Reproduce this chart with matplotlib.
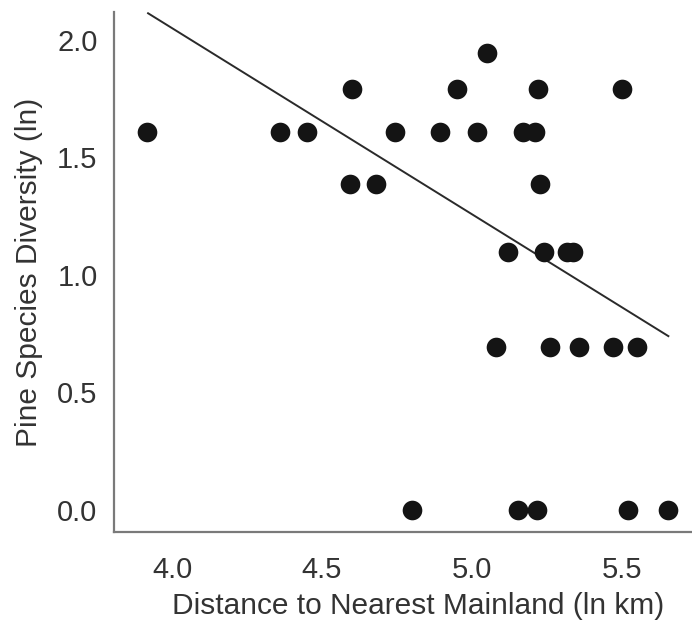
import numpy as np
import matplotlib
matplotlib.use("Agg")
import matplotlib.pyplot as plt

plt.rcParams['font.family'] = ['Liberation Sans', 'DejaVu Sans']

# Island distance to nearest mainland (ln km) and pine species diversity (ln)
distance = [3.916, 4.36, 4.45, 4.743, 4.893, 5.016, 5.17, 5.21,
            4.60, 4.95, 5.22, 5.50,
            5.05,
            4.593, 4.68, 5.227,
            5.12, 5.24, 5.316, 5.338,
            5.08, 5.26, 5.358, 5.469, 5.549,
            4.80, 5.153, 5.216, 5.52, 5.654]
diversity = [1.609] * 8 + [1.792] * 4 + [1.946] + [1.386] * 3 + \
            [1.099] * 4 + [0.693] * 5 + [0.0] * 5

# Fitted trend line
fit_slope = -0.792
fit_intercept = 5.218
fit_range = [3.92, 5.655]

xticks = [4.0, 4.5, 5.0, 5.5]
yticks = [0.0, 0.5, 1.0, 1.5, 2.0]

fig = plt.figure(figsize=(6.92, 6.28), dpi=100)
ax = fig.add_axes([0.165, 0.153, 0.878, 0.828])

ax.scatter(distance, diversity, s=200, color='#141414', zorder=3, linewidths=0)
fx = np.array(fit_range)
ax.plot(fx, fit_intercept + fit_slope * fx, color='#2a2a2a', lw=1.4, zorder=2)

ax.set_xlim(3.807, 5.833)
ax.set_ylim(-0.094, 2.119)
ax.set_xticks(xticks)
ax.set_yticks(yticks)
ax.set_xticklabels([f"{t:.1f}" for t in xticks])
ax.set_yticklabels([f"{t:.1f}" for t in yticks])

for side in ['top', 'right']:
    ax.spines[side].set_visible(False)
for side in ['left', 'bottom']:
    ax.spines[side].set_color('#7a7a7a')
    ax.spines[side].set_linewidth(1.6)

ax.tick_params(axis='both', length=0, labelsize=21, colors='#333333')
ax.tick_params(axis='x', pad=17)
ax.tick_params(axis='y', pad=12)

ax.set_xlabel("Distance to Nearest Mainland (ln km)", fontsize=21.5, color='#333333', labelpad=6)
ax.set_ylabel("Pine Species Diversity (ln)", fontsize=21.5, color='#333333', labelpad=10)

fig.savefig("out.png", dpi=100)
